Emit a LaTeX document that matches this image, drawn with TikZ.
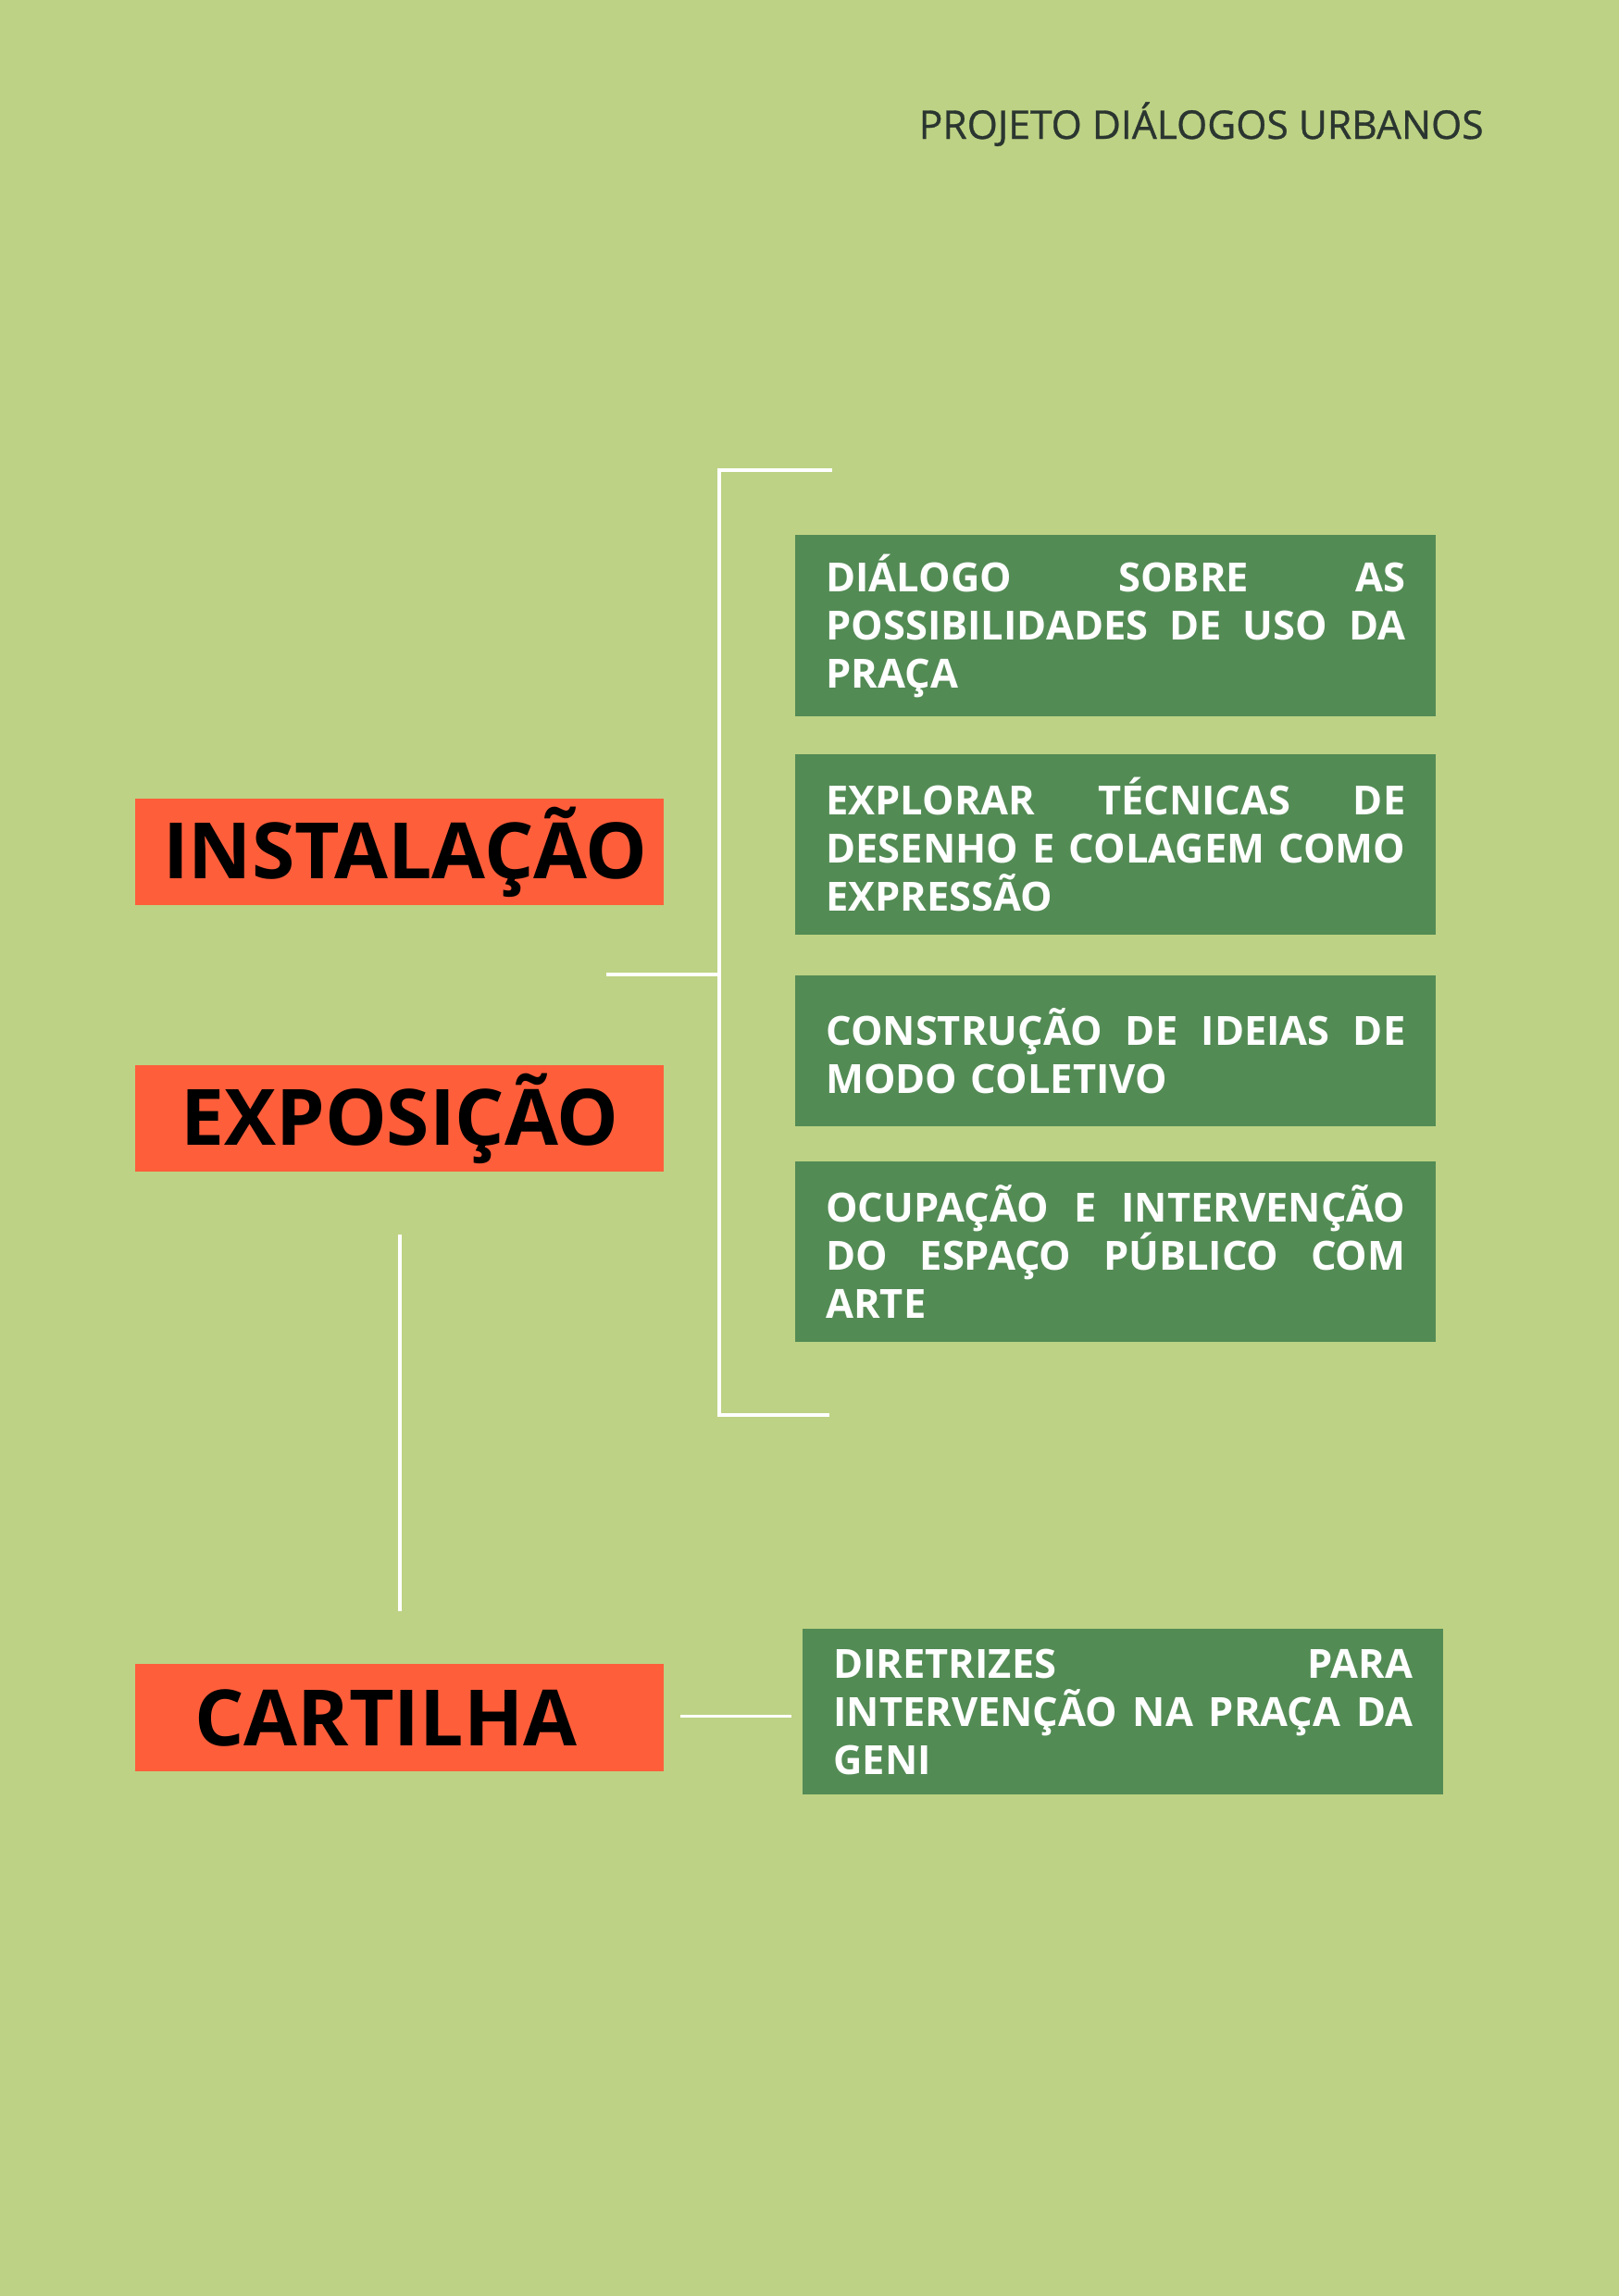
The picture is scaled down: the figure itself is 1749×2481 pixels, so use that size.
\documentclass[tikz,border=0pt]{standalone}
\usepackage{fontspec}
\setmainfont{Open Sans}
\newfontfamily\titlefont[FakeBold=0.7]{Open Sans}
\definecolor{bgc}{HTML}{BDD284}
\definecolor{boxgreen}{HTML}{538B55}
\definecolor{boxorange}{HTML}{FF5E3B}
\definecolor{titlec}{HTML}{2B3530}
\newcommand\jl[1]{\leavevmode\hbox to 313pt{#1}}
\begin{document}
\begin{tikzpicture}[x=0.5pt,y=-0.5pt,
  gbox/.style={fill=boxgreen, text=white, font=\bfseries\fontsize{21.7}{26}\selectfont,
    text width=313pt, inner xsep=16.5pt, inner ysep=0pt, anchor=north west, align=left},
  obox/.style={fill=boxorange, text=black, font=\bfseries\fontsize{42}{46}\selectfont,
    minimum width=285.5pt, inner sep=0pt, anchor=north west},
  wline/.style={draw=white, line width=1.6pt}]
\fill[bgc] (0,0) rectangle (1749,2481);
\useasboundingbox (0,0) rectangle (1749,2481);

\node[anchor=base east, text=titlec, font=\titlefont\fontsize{21.3}{25}\selectfont, inner sep=0pt] (title) at (1603,150) {PROJETO DIÁLOGOS URBANOS};

\node[gbox, minimum height=98pt] (g1) at (859,578) {\jl{DIÁLOGO\hfill SOBRE\hfill AS}\\\jl{POSSIBILIDADES\hfill DE\hfill USO\hfill DA}\\PRAÇA};
\node[gbox, minimum height=97.5pt] (g2) at (859,815) {\jl{EXPLORAR\hfill TÉCNICAS\hfill DE}\\\jl{DESENHO\hfill E\hfill COLAGEM\hfill COMO}\\EXPRESSÃO};
\node[gbox, minimum height=81.5pt] (g3) at (859,1054) {\jl{CONSTRUÇÃO\hfill DE\hfill IDEIAS\hfill DE}\\MODO COLETIVO};
\node[gbox, minimum height=97.5pt] (g4) at (859,1255) {\jl{OCUPAÇÃO\hfill E\hfill INTERVENÇÃO}\\\jl{DO\hfill ESPAÇO\hfill PÚBLICO\hfill COM}\\ARTE};
\node[gbox, minimum height=89.5pt] (g5) at (867,1760) {\jl{DIRETRIZES\hfill PARA}\\\jl{INTERVENÇÃO\hfill NA\hfill PRAÇA\hfill DA}\\GENI};

\node[obox, minimum height=57.5pt] (inst) at (146,863) {\hspace*{6pt}INSTALAÇÃO};
\node[obox, minimum height=57.5pt] (expo) at (146,1151) {EXPOSIÇÃO};
\node[obox, minimum height=58pt] (cart) at (146,1798) {CARTILHA\hspace*{15pt}};

\coordinate (btop) at (899,508);
\coordinate (bbot) at (896,1529);
\coordinate (bmid) at (777,1053);
\coordinate (stub) at (655,1053);
\coordinate (vtop) at (432,1334);
\coordinate (vbot) at (432,1741);

\draw[wline] (btop) -- (777,508) -- (777,1529) -- (bbot);
\draw[wline] (stub) -- (bmid);
\draw[wline] (vtop) -- (vbot);
\draw[wline] ([xshift=8.5pt,yshift=1pt]cart.east) -- ([xshift=-6pt,yshift=1pt]cart.east -| g5.west);
\end{tikzpicture}
\end{document}
